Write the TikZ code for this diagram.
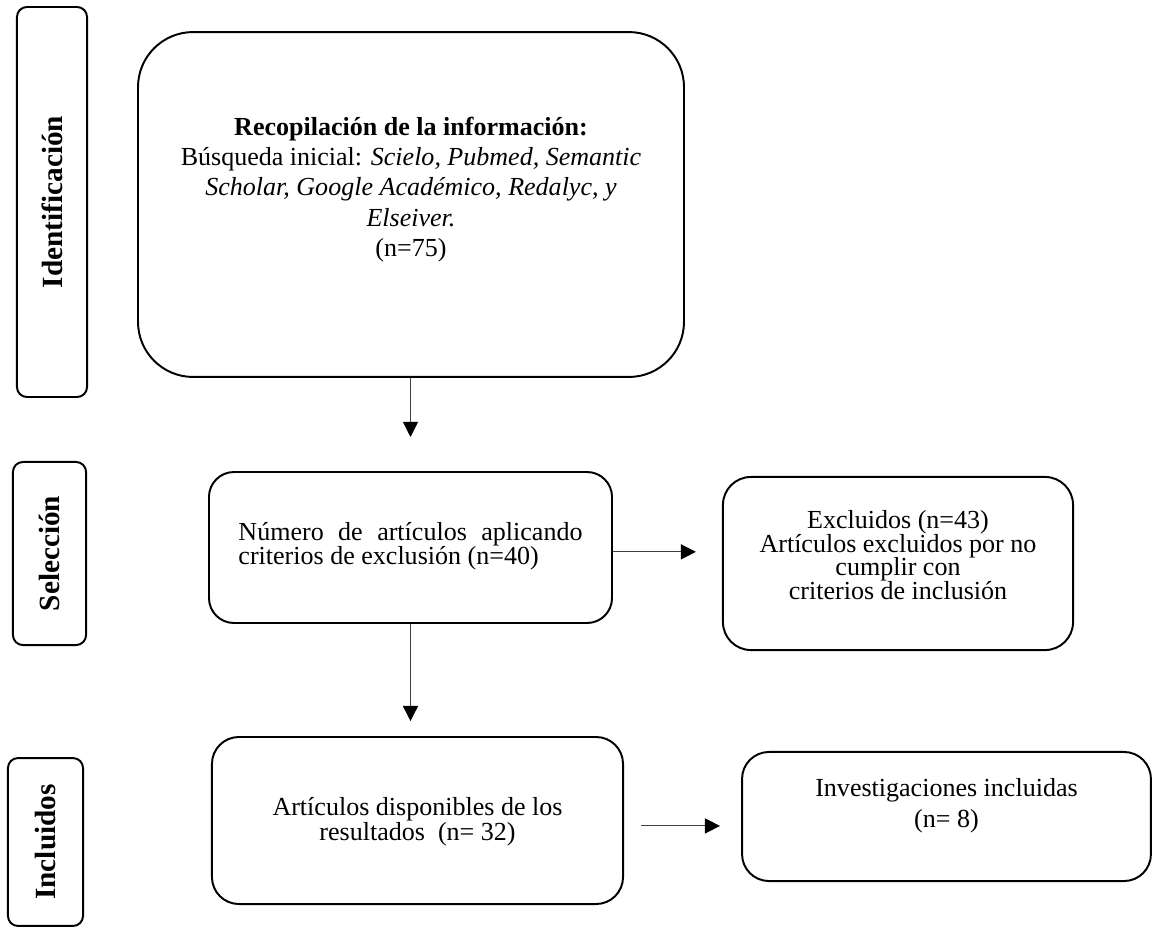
\documentclass[tikz,border=0pt]{standalone}
\usepackage{fontspec}
\setmainfont{Liberation Serif}
\usepackage{tikz}
\usetikzlibrary{arrows.meta}
\setlength{\lineskiplimit}{-6pt}

\begin{document}
\begin{tikzpicture}[x=0.461pt, y=-0.461pt]
    \tikzstyle{stage} = [rectangle, draw, rounded corners=4.6pt, line width=0.9pt, inner sep=0pt, rotate=90, font=\fontsize{13.5}{15}\selectfont\bfseries]
    \tikzstyle{stepbox} = [rectangle, draw, line width=0.9pt, inner sep=0pt]
    \tikzstyle{boxtxt} = [align=center, inner sep=0pt]
    \tikzstyle{arrow} = [-{Triangle[length=7pt, width=7pt, color=black]}, black!75, line width=0.5pt]

    \useasboundingbox (0,0) rectangle (1152,928);

    % Stages (left column)
    \node[stage, minimum width=179.8pt, minimum height=32.3pt] (ident) at (52,202) {Identificación};
    \node[stage, minimum width=84.4pt, minimum height=33.7pt] (selec) at (49.5,553.5) {Selección};
    \node[stage, minimum width=77.4pt, minimum height=34.6pt] (inclu) at (45.5,842) {Incluidos};

    % Boxes
    \node[stepbox, rounded corners=25.4pt, minimum width=251.7pt, minimum height=159pt] (recop) at (411,204.5) {};
    \node[stepbox, rounded corners=11.5pt, minimum width=185.8pt, minimum height=69.6pt] (numbox) at (410.5,547.5) {};
    \node[stepbox, rounded corners=12.9pt, minimum width=161.4pt, minimum height=79.8pt] (exclbox) at (898,563.5) {};
    \node[stepbox, rounded corners=12.4pt, minimum width=189.5pt, minimum height=77pt] (artbox) at (417.5,820.5) {};
    \node[stepbox, rounded corners=12.4pt, minimum width=188.5pt, minimum height=59.5pt] (invbox) at (946.5,816.5) {};

    % Box texts
    \node[boxtxt, font=\fontsize{12}{13.9}\selectfont] (recoptxt) at (411,189.5) {\textbf{Recopilación de la información:}\\
        Búsqueda inicial: \textit{Scielo, Pubmed, Semantic}\\
        \textit{Scholar, Google Académico, Redalyc, y}\\
        \textit{Elseiver.}\\
        (n=75)};
    \node[boxtxt, font=\fontsize{12}{11}\selectfont, text width=158.6pt, align=justify] (numtxt) at (410.5,546) {Número de artículos aplicando\linebreak criterios de exclusión (n=40)};
    \node[boxtxt, font=\fontsize{12}{10.8}\selectfont] (excltxt) at (898,555) {Excluidos (n=43)\\
        Artículos excluidos por no\\
        cumplir con\\
        criterios de inclusión};
    \node[boxtxt, font=\fontsize{12}{11.5}\selectfont] (arttxt) at (417.5,821.5) {Artículos disponibles de los\\resultados\ \ (n= 32)};
    \node[boxtxt, font=\fontsize{12}{14.3}\selectfont] (invtxt) at (946.5,806) {Investigaciones incluidas\\(n= 8)};

    % Arrows
    \draw[arrow, shorten >=15.7pt] (recop.south -| numbox.north) -- (numbox.north);
    \draw[arrow, shorten >=6.9pt] (numbox.south) -- (numbox.south |- artbox.north);
    \draw[arrow, shorten >=12pt] ([yshift=-2pt]numbox.east) -- ([yshift=-2pt]numbox.east -| exclbox.west);
    \draw[arrow, shorten <=7.8pt, shorten >=9.7pt] ([yshift=-2.5pt]artbox.east) -- ([yshift=-2.5pt]artbox.east -| invbox.west);
\end{tikzpicture}
\end{document}
